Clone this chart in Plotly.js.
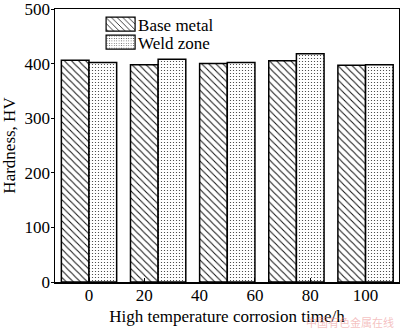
<!DOCTYPE html>
<html>
<head>
<meta charset="utf-8">
<script src="https://cdn.plot.ly/plotly-3.0.1.min.js"></script>
<style>html,body{margin:0;padding:0;background:#fff;}#chart{width:400px;height:329px;}</style>
</head>
<body>
<div id="chart"></div>
<script>
const categories = [0, 25, 50, 75, 100];
const baseMetal = [406, 398, 400, 405, 397];
const weldZone = [402, 408, 402, 418, 398];
const tickVals = [0, 20, 40, 60, 80, 100];
const tickText = ['0', '20', '40', '60', '80', '100'];
const seriesNames = ['Base metal', 'Weld zone'];

const serif = 'Liberation Serif, Times New Roman, serif';

const traces = [
  {
    type: 'bar', name: seriesNames[0], x: categories, y: baseMetal,
    width: 10, offset: -10,
    marker: {
      color: 'white',
      line: {color: 'black', width: 1.5},
      pattern: {shape: '\\', size: 5, solidity: 0.2, fgcolor: '#111', bgcolor: 'white', fillmode: 'replace'}
    }
  },
  {
    type: 'bar', name: seriesNames[1], x: categories, y: weldZone,
    width: 10, offset: 0,
    marker: {
      color: 'white',
      line: {color: 'black', width: 1.5},
      pattern: {shape: '.', size: 3, solidity: 0.13, fgcolor: '#333', bgcolor: 'white', fillmode: 'replace'}
    }
  }
];

const layout = {
  width: 400, height: 329,
  margin: {l: 55, r: 1, t: 9, b: 47},
  paper_bgcolor: 'white', plot_bgcolor: 'white',
  barmode: 'overlay',
  showlegend: true,
  font: {family: serif, size: 17, color: 'black'},
  xaxis: {
    range: [-12.3, 112.1], tickvals: tickVals, ticktext: tickText,
    ticks: 'inside', ticklen: 4, tickcolor: 'black', tickwidth: 1,
    showline: true, linecolor: 'black', linewidth: 1.5, mirror: true,
    showgrid: false, zeroline: false, ticklabelstandoff: -3,
    tickfont: {family: serif, size: 17},
    title: {text: 'High temperature corrosion time/h', font: {family: serif, size: 17}, standoff: 6}
  },
  yaxis: {
    range: [0, 500], dtick: 100,
    ticks: 'outside', ticklen: 3, tickcolor: 'black', tickwidth: 1,
    showline: true, linecolor: 'black', linewidth: 1.5, mirror: true,
    showgrid: false, zeroline: false, ticklabelstandoff: -3,
    ticklabeloverflow: 'allow',
    tickfont: {family: serif, size: 17},
    title: {text: 'Hardness, HV', font: {family: serif, size: 17}, standoff: 6}
  },
  legend: {
    x: 0.134, y: 0.985, xanchor: 'left', yanchor: 'top',
    bgcolor: 'rgba(0,0,0,0)', borderwidth: 0,
    font: {family: serif, size: 17, color: 'black'},
    itemwidth: 30
  },
  annotations: [{
    text: '中国有色金属在线', xref: 'paper', yref: 'paper',
    x: 0.99, y: -0.146, xanchor: 'right', yanchor: 'middle', showarrow: false,
    font: {family: 'Noto Sans CJK SC', size: 11, color: 'rgba(235,140,140,0.55)'}
  }]
};

Plotly.newPlot('chart', traces, layout, {displayModeBar: false, staticPlot: true}).then(function (gd) {
  const items = gd.querySelectorAll('.legend .traces');
  items.forEach(function (g, i) {
    g.setAttribute('transform', 'translate(0,' + (11 + i * 18) + ')');
    g.querySelectorAll('.legendpoints path').forEach(function (p) {
      p.removeAttribute('transform');
      p.setAttribute('d', 'M34,7H5V-7H34Z');
      p.style.strokeWidth = '1.2px';
    });
    const t = g.querySelector('.legendtext');
    if (t) {
      t.setAttribute('x', '37');
      t.querySelectorAll('tspan').forEach(function (s) { if (s.getAttribute('x')) s.setAttribute('x', '37'); });
    }
  });
});
</script>
</body>
</html>
